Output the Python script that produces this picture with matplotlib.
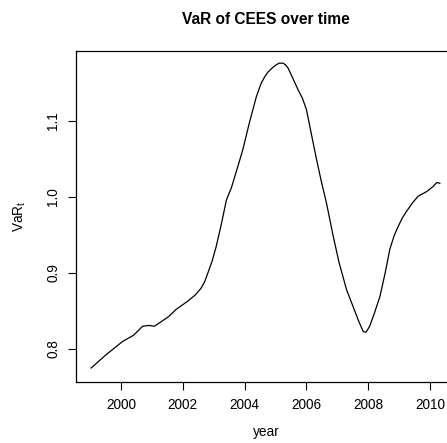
import numpy as np
import matplotlib
matplotlib.use("Agg")
import matplotlib.pyplot as plt

plt.rcParams['font.family'] = ['Liberation Sans', 'DejaVu Sans']
plt.rcParams['mathtext.default'] = 'regular'

# VaR estimates read along the time axis
year = [1999.03, 1999.5, 2000.05, 2000.4, 2000.70, 2000.9, 2001.08, 2001.30, 2001.55,
        2001.78, 2002.16, 2002.40, 2002.59, 2002.70, 2002.81, 2002.95, 2003.08, 2003.25,
        2003.41, 2003.57, 2003.75, 2003.94, 2004.15, 2004.38, 2004.54, 2004.65, 2004.75,
        2004.90, 2005.03, 2005.12, 2005.24, 2005.32, 2005.40, 2005.55, 2005.73, 2005.87,
        2006.00, 2006.15, 2006.32, 2006.48, 2006.65, 2006.86, 2007.05, 2007.30, 2007.51,
        2007.70, 2007.84, 2007.93, 2008.05, 2008.20, 2008.38, 2008.55, 2008.70, 2008.84,
        2008.97, 2009.10, 2009.24, 2009.45, 2009.62, 2009.89, 2010.11, 2010.22, 2010.32]
var_t = [0.775, 0.792, 0.810, 0.818, 0.830, 0.831, 0.830, 0.836, 0.843,
         0.852, 0.863, 0.871, 0.880, 0.888, 0.900, 0.916, 0.935, 0.965,
         0.996, 1.012, 1.036, 1.062, 1.097, 1.132, 1.150, 1.158, 1.164,
         1.170, 1.174, 1.176, 1.176, 1.174, 1.170, 1.157, 1.141, 1.130,
         1.115, 1.085, 1.051, 1.021, 0.992, 0.950, 0.915, 0.878, 0.856,
         0.836, 0.823, 0.822, 0.830, 0.847, 0.869, 0.900, 0.931, 0.949,
         0.961, 0.972, 0.981, 0.993, 1.001, 1.007, 1.014, 1.019, 1.018]

W, H = 447, 443
fig = plt.figure(figsize=(W / 100, H / 100), dpi=100)
ax = fig.add_axes([76 / W, 1 - 381.7 / H, (456.5 - 76) / W, (381.7 - 51) / H])

ax.plot(year, var_t, color='black', linewidth=0.9)

ax.set_xlim(1998.54, 2010.86)
ax.set_ylim(0.757, 1.192)
ax.set_xticks([2000, 2002, 2004, 2006, 2008, 2010])
ax.set_yticks([0.8, 0.9, 1.0, 1.1])
ax.set_yticklabels(['0.8', '0.9', '1.0', '1.1'], rotation=90, va='center')
ax.tick_params(direction='out', length=5.5, width=0.8, labelsize=9.8, pad=6)

for s in ax.spines.values():
    s.set_linewidth(0.9)

fig.text(266 / W, 1 - 19 / H, 'VaR of CEES over time', ha='center', va='center',
         fontsize=11.2, fontweight='bold')
fig.text(266 / W, 1 - 432 / H, 'year', ha='center', va='center', fontsize=9.8)
fig.text(20 / W, 1 - 216 / H, 'VaR$_t$', ha='center', va='center', rotation=90,
         fontsize=9.8)

fig.savefig('out.png', dpi=100)
